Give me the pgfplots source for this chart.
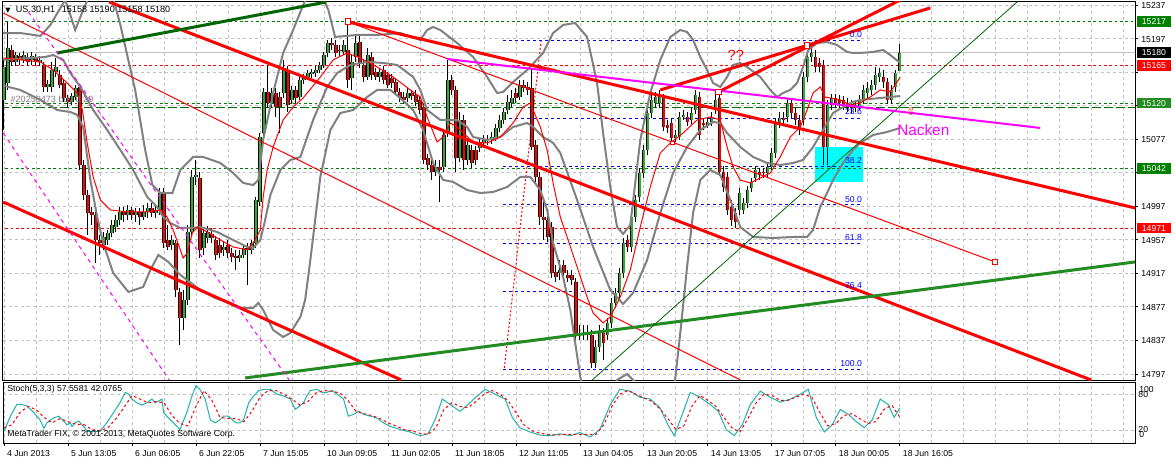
\documentclass[border=0pt]{standalone}
\usepackage{pgfplots}
\pgfplotsset{compat=1.18}
\usepackage{pgfplotstable}
\usepackage{fontspec}
\setmainfont{Liberation Sans}
\newfontfamily\symfont{DejaVu Sans}
\newcommand{\mtfont}{\fontsize{6.5}{7.5}\selectfont}

\definecolor{mtgreen}{RGB}{0,128,0}
\definecolor{mtdkgreen}{RGB}{0,100,0}
\definecolor{mtforest}{RGB}{34,139,34}
\definecolor{mtgray}{RGB}{128,128,128}
\definecolor{mtgrid}{RGB}{192,192,192}
\definecolor{mtbull}{RGB}{50,170,50}
\definecolor{mtsea}{RGB}{32,178,170}
\definecolor{mtmag}{RGB}{255,0,255}
\definecolor{mtblue}{RGB}{0,0,255}
\definecolor{mtcyan}{RGB}{0,255,255}

% US.30 H1 candles, bar index from 4 Jun 2013
\pgfplotstableread{
i o h l c
0 15124 15171 15088 15163
1 15144 15217 15136 15186
2 15183 15189 15164 15169
3 15169 15181 15164 15177
4 15176 15180 15166 15171
5 15171 15182 15168 15177
6 15175 15180 15164 15169
7 15171 15181 15166 15176
8 15174 15178 15164 15169
9 15169 15176 15164 15171
10 15165 15169 15133 15139
11 15139 15148 15133 15143
12 15139 15169 15133 15160
13 15157 15174 15151 15163
14 15154 15160 15138 15142
15 15144 15148 15121 15126
16 15126 15130 15115 15121
17 15121 15132 15118 15128
18 15127 15142 15124 15138
19 15139 15143 15040 15046
20 15046 15052 15004 15010
21 15010 15016 14963 14989
22 14990 14996 14975 14987
23 14987 14993 14929 14957
24 14957 14963 14939 14953
25 14951 14966 14945 14960
26 14957 14969 14951 14965
27 14965 14981 14960 14975
28 14972 14987 14966 14981
29 14981 14996 14975 14990
30 14990 14996 14978 14987
31 14987 14998 14981 14993
32 14993 14996 14981 14987
33 14987 14995 14978 14990
34 14990 14995 14975 14984
35 14984 14998 14981 14990
36 14990 15001 14983 14995
37 14995 15001 14984 14989
38 14989 14998 14983 14993
39 14993 15019 14987 15013
40 15013 15019 14947 14953
41 14957 14975 14945 14948
42 14951 14963 14945 14957
43 14953 14957 14889 14897
44 14895 14900 14832 14864
45 14864 14897 14849 14885
46 14885 14975 14879 14966
47 14966 15040 14960 15032
48 15032 15052 15022 15034
49 15031 15038 14935 14945
50 14947 14971 14939 14965
51 14959 14973 14953 14966
52 14964 14971 14953 14959
53 14957 14962 14933 14939
54 14951 14959 14935 14941
55 14945 14954 14938 14948
56 14951 14957 14935 14941
57 14941 14947 14931 14936
58 14938 14945 14921 14935
59 14935 14945 14931 14939
60 14939 14952 14935 14947
61 14947 14953 14903 14945
62 14945 14957 14940 14953
63 14953 15008 14947 15004
64 15002 15084 14997 15080
65 15084 15138 15080 15133
66 15133 15165 15114 15120
67 15120 15138 15114 15132
68 15132 15138 15103 15115
69 15127 15133 15084 15115
70 15132 15171 15126 15162
71 15160 15164 15109 15118
72 15124 15140 15119 15136
73 15136 15140 15120 15126
74 15127 15152 15124 15148
75 15148 15155 15143 15150
76 15151 15160 15148 15156
77 15155 15161 15150 15157
78 15156 15164 15151 15160
79 15160 15169 15156 15165
80 15165 15181 15162 15177
81 15180 15195 15175 15192
82 15192 15198 15183 15189
83 15189 15195 15175 15180
84 15183 15189 15176 15182
85 15181 15195 15177 15189
86 15183 15217 15138 15148
87 15150 15177 15136 15169
88 15175 15201 15169 15192
89 15193 15201 15162 15168
90 15165 15171 15145 15151
91 15151 15186 15148 15177
92 15175 15181 15148 15154
93 15157 15162 15148 15151
94 15151 15162 15145 15157
95 15160 15164 15143 15148
96 15154 15157 15138 15142
97 15150 15155 15138 15144
98 15145 15150 15130 15133
99 15133 15138 15121 15126
100 15127 15133 15119 15124
101 15126 15138 15121 15132
102 15132 15136 15124 15128
103 15130 15136 15117 15121
104 15124 15128 15107 15112
105 15114 15119 15047 15052
106 15055 15059 15040 15046
107 15046 15052 15028 15038
108 15038 15052 15033 15044
109 15044 15052 15002 15040
110 15044 15088 15038 15082
111 15084 15171 15080 15148
112 15148 15154 15130 15136
113 15136 15140 15038 15055
114 15055 15109 15050 15100
115 15100 15106 15040 15052
116 15052 15078 15046 15070
117 15064 15070 15043 15049
118 15064 15069 15046 15052
119 15066 15078 15062 15072
120 15072 15082 15066 15076
121 15076 15082 15070 15077
122 15076 15086 15071 15080
123 15080 15095 15075 15090
124 15090 15106 15086 15100
125 15100 15114 15095 15109
126 15112 15130 15107 15121
127 15120 15136 15115 15126
128 15132 15138 15120 15126
129 15127 15148 15124 15142
130 15142 15148 15133 15138
131 15139 15145 15130 15136
132 15138 15162 15064 15068
133 15070 15076 15026 15032
134 15032 15038 14975 14984
135 14984 15004 14957 14981
136 14981 14987 14954 14960
137 14972 14978 14911 14917
138 14919 14927 14907 14913
139 14917 14933 14909 14921
140 14927 14933 14911 14917
141 14915 14921 14907 14911
142 14915 14921 14903 14909
143 14907 14911 14838 14844
144 14846 14855 14838 14844
145 14845 14855 14838 14844
146 14844 14855 14838 14846
147 14844 14849 14804 14810
148 14810 14838 14804 14829
149 14829 14855 14823 14846
150 14846 14852 14814 14834
151 14844 14864 14838 14858
152 14858 14888 14852 14882
153 14882 14900 14876 14894
154 14894 14923 14888 14917
155 14917 14959 14911 14953
156 14957 14963 14942 14948
157 14948 14990 14942 14984
158 14984 15010 14978 15004
159 15008 15043 15002 15037
160 15037 15070 15031 15064
161 15064 15114 15058 15108
162 15108 15130 15102 15124
163 15120 15133 15114 15127
164 15120 15136 15114 15127
165 15126 15131 15087 15092
166 15094 15100 15084 15090
167 15096 15102 15074 15078
168 15078 15088 15074 15082
169 15080 15109 15076 15103
170 15103 15112 15100 15106
171 15103 15109 15093 15097
172 15100 15114 15095 15108
173 15112 15136 15107 15130
174 15127 15133 15076 15082
175 15096 15102 15088 15094
176 15094 15102 15090 15097
177 15097 15109 15093 15103
178 15112 15136 15107 15124
179 15126 15132 15033 15038
180 15038 15045 15014 15020
181 15032 15038 14987 14993
182 14996 15004 14973 14981
183 14989 14995 14971 14978
184 14993 15019 14987 15013
185 14993 15007 14988 15001
186 15001 15021 14995 15016
187 15019 15031 15014 15026
188 15031 15045 15026 15040
189 15038 15043 15028 15034
190 15038 15043 15031 15037
191 15037 15050 15032 15044
192 15044 15066 15040 15060
193 15060 15102 15055 15096
194 15096 15109 15090 15102
195 15102 15109 15094 15100
196 15103 15126 15097 15120
197 15120 15126 15102 15108
198 15108 15114 15094 15100
199 15100 15106 15082 15090
200 15100 15157 15094 15151
201 15151 15181 15145 15175
202 15175 15192 15169 15180
203 15175 15183 15157 15163
204 15168 15174 15157 15163
205 15165 15171 15046 15068
206 15068 15124 15046 15118
207 15118 15131 15112 15126
208 15126 15131 15114 15120
209 15124 15130 15114 15120
210 15124 15128 15112 15118
211 15120 15126 15109 15115
212 15118 15124 15108 15114
213 15114 15124 15109 15118
214 15115 15130 15112 15124
215 15124 15142 15119 15136
216 15132 15145 15126 15138
217 15136 15148 15130 15142
218 15142 15163 15136 15154
219 15151 15162 15145 15156
220 15151 15160 15138 15145
221 15145 15150 15119 15124
222 15124 15142 15119 15136
223 15139 15160 15133 15156
224 15158 15190 15158 15180
}\candles

\begin{document}
\begin{tikzpicture}
\path[use as bounding box] (0,0) rectangle (881.25pt,-345pt);

\begin{axis}[
  at={(2.25pt,-1.5pt)}, anchor=north west,
  scale only axis, width=849pt, height=283.5pt,
  xmin=-0.25, xmax=282.8, ymin=14789.8, ymax=15240.6,
  clip mode=individual,
  axis line style={black, line width=0.75pt},
  xtick={0,8,...,280}, xmajorticks=false,
  ytick={14797,14837,...,15237},
  yticklabels={14797,14837,14877,14917,14957,14997,,15077,,,15197,15237},
  ytick pos=right, yticklabel pos=right, tick align=outside,
  major tick length=2.25pt,
  tick style={black, line width=0.6pt},
  grid=major,
  grid style={mtgrid, line width=0.6pt, dash pattern=on 2.25pt off 2.25pt},
  yticklabel style={font=\mtfont, anchor=west, xshift=-1pt, yshift=-0.4pt},
  /pgf/number format/assume math mode=true,
  candle/.style={draw=none, mark=none, forget plot,
    error bars/y dir=plus, error bars/y explicit, error bars/error mark=none},
]
% cyan box
\addplot[fill=mtcyan, draw=none] coordinates {(202.8,15067.7) (214.8,15067.7) (214.8,15026) (202.8,15026)} -- cycle;

% horizontal levels
\addplot[mtgrid, line width=0.75pt] coordinates {(-1,15180) (283,15180)};
\addplot[mtgreen, line width=0.75pt, dash pattern=on 2pt off 2pt] coordinates {(-1,15217) (283,15217)};
\addplot[red, line width=0.75pt, dash pattern=on 2pt off 2pt] coordinates {(-1,15165) (283,15165)};
\addplot[mtgreen, line width=0.75pt, dash pattern=on 2pt off 2pt] coordinates {(-1,15120) (283,15120)};
\addplot[mtdkgreen, line width=0.75pt, dash pattern=on 7pt off 2pt] coordinates {(-1,15115) (283,15115)};
\addplot[mtgreen, line width=0.75pt, dash pattern=on 2pt off 2pt] coordinates {(-1,15042) (283,15042)};
\addplot[red, line width=0.75pt, dash pattern=on 2pt off 2pt] coordinates {(-1,14971) (283,14971)};

% fibonacci levels
\foreach \lv in {15194.5,15102.1,15044.9,14998.7,14952.5,14895.3,14802.9}{
  \addplot[mtblue, line width=0.75pt, dash pattern=on 2.25pt off 2.25pt] coordinates {(124.8,\lv) (214.6,\lv)};
}
\addplot[red, line width=0.75pt, dash pattern=on 1.5pt off 1.5pt] coordinates {(125.1,14804.2) (134.3,15194.1)};

% candles: wicks, then bodies
\addplot[candle, error bars/error bar style={draw=black, line width=0.75pt}]
  table[x=i, y=l, y error expr=\thisrow{h}-\thisrow{l}] {\candles};
\addplot[candle, restrict expr to domain={\thisrow{c}-\thisrow{o}}{0.5:1000},
  error bars/error bar style={draw=black, line width=2.4pt}]
  table[x=i, y=o, y error expr=\thisrow{c}-\thisrow{o}] {\candles};
\addplot[candle, restrict expr to domain={\thisrow{c}-\thisrow{o}}{0.5:1000},
  error bars/error bar style={draw=mtbull, line width=1.4pt}]
  table[x=i, y=o, y error expr=\thisrow{c}-\thisrow{o}] {\candles};
\addplot[candle, restrict expr to domain={\thisrow{o}-\thisrow{c}}{0.5:1000},
  error bars/error bar style={draw=black, line width=2.4pt}]
  table[x=i, y=c, y error expr=\thisrow{o}-\thisrow{c}] {\candles};
\addplot[candle, restrict expr to domain={\thisrow{o}-\thisrow{c}}{0.5:1000},
  error bars/error bar style={draw=red, line width=1.4pt}]
  table[x=i, y=c, y error expr=\thisrow{o}-\thisrow{c}] {\candles};

% bands (gray): upper, middle, lower
\addplot[mtgray, line width=1.5pt] coordinates {
(-0.9,15203.6) (4.1,15203.6) (9.1,15200.1) (11.6,15213.2) (14.1,15233.5) (15.3,15243) (16.6,15225.1) (17.8,15207.2) (19.6,15228.7) (21.1,15245.4) (24.1,15278.8) (27.3,15245.4) (29.1,15213.2) (30.8,15177.4) (32.8,15135.7) (35.3,15064.1) (37.1,15022.4) (39.1,15012.8) (42.1,15012.8) (44.1,15040.3) (47.3,15055.8) (49.8,15055.8) (54.1,15048.6) (57.3,15036.7) (59.8,15024.8) (62.3,15022.4) (63.6,15028.4) (64.8,15076.1) (67.3,15132.1) (69.8,15179.8) (72.3,15207.2) (74.8,15237.0) (77.8,15266.9) (81.1,15231.1) (82.8,15198.9) (88.3,15201.3) (93.3,15201.3) (99.1,15203.6) (104.1,15195.3) (105.8,15207.2) (107.3,15210.8) (109.1,15207.2) (113.3,15191.7) (117.3,15175.0) (120.8,15151.2) (123.3,15132.1) (124.8,15133.3) (127.3,15145.2) (130.8,15159.5) (134.8,15179.8) (137.3,15203.6) (139.8,15213.2) (142.8,15215.6) (145.8,15198.9) (148.3,15144.0) (149.8,15084.4) (151.6,15020.0) (153.3,14972.3) (154.8,14964.0) (156.6,14974.7) (159.1,15076.1) (161.6,15132.1) (164.1,15171.5) (166.6,15198.9) (169.1,15207.2) (170.8,15204.8) (172.3,15195.3) (174.1,15175.0) (175.8,15159.5) (177.3,15144.0) (179.1,15139.3) (180.8,15151.2) (182.3,15165.5) (184.1,15167.9) (185.8,15163.1) (189.1,15151.2) (191.6,15135.7) (193.3,15127.3) (194.8,15132.1) (196.6,15135.7) (198.3,15144.0) (199.8,15163.1) (201.1,15183.4) (203.3,15191.7) (205.8,15192.9) (208.3,15189.3) (210.8,15181.0) (212.3,15179.8) (214.1,15179.8) (217.3,15181.0) (219.8,15183.4) (221.6,15177.4) (224.1,15167.9)};
\addplot[mtgray, line width=1.5pt] coordinates {
(-0.9,15171.5) (6.6,15173.8) (10.3,15175.0) (12.3,15177.4) (14.8,15171.5) (16.6,15155.9) (19.1,15139.3) (22.3,15111.8) (25.8,15088.0) (29.1,15064.1) (32.3,15040.3) (35.8,15008.1) (38.3,14996.2) (39.8,14984.2) (41.6,14977.1) (44.1,14971.1) (46.6,14971.1) (49.1,14972.3) (53.3,14966.3) (57.3,14956.8) (60.8,14948.5) (62.3,14947.3) (64.1,14956.8) (65.3,14980.6) (66.6,15010.5) (69.1,15040.3) (71.6,15052.2) (74.1,15055.8) (77.3,15099.9) (80.8,15139.3) (83.3,15155.9) (86.6,15165.5) (90.8,15169.1) (94.8,15167.9) (98.3,15165.5) (102.3,15151.2) (104.1,15135.7) (105.8,15111.8) (109.1,15099.9) (113.3,15099.9) (115.8,15091.6) (117.3,15079.6) (120.8,15076.1) (124.1,15079.6) (127.3,15091.6) (130.8,15096.3) (132.3,15091.6) (134.8,15079.6) (137.3,15072.5) (139.1,15060.6) (143.3,15004.5) (147.3,14948.5) (151.6,14897.2) (154.8,14880.5) (157.3,14893.6) (160.8,14932.9) (164.1,14989.0) (167.3,15036.7) (170.8,15067.7) (174.1,15088.0) (177.3,15097.5) (179.1,15096.3) (180.8,15084.4) (184.1,15067.7) (187.3,15055.8) (190.8,15048.6) (194.1,15046.2) (197.3,15048.6) (199.8,15052.2) (202.3,15067.7) (204.8,15088.0) (207.3,15108.2) (209.8,15115.4) (212.3,15121.4) (214.1,15123.8) (219.1,15126.1) (224.1,15128.5)};
\addplot[mtgray, line width=1.5pt] coordinates {
(-0.9,15141.6) (4.1,15135.7) (9.1,15123.8) (13.3,15111.8) (16.6,15109.4) (18.3,15105.9) (19.8,15091.6) (21.6,15028.4) (23.3,14984.2) (24.8,14953.2) (27.3,14917.4) (31.1,14894.8) (34.8,14900.8) (36.6,14921.0) (38.6,14938.9) (41.1,14930.6) (44.1,14915.1) (49.1,14897.2) (52.8,14887.6) (56.6,14881.7) (59.1,14875.7) (62.3,14875.7) (63.6,14881.7) (64.8,14873.3) (67.3,14849.5) (69.8,14841.1) (71.6,14845.9) (74.1,14865.0) (75.3,14885.3) (76.6,14932.9) (79.1,15031.9) (81.6,15088.0) (84.1,15108.2) (87.3,15111.8) (90.8,15127.3) (93.3,15135.7) (96.6,15135.7) (99.1,15126.1) (102.3,15111.8) (104.8,15088.0) (107.3,15048.6) (109.8,15028.4) (112.3,15026.0) (115.8,15016.4) (119.1,15012.8) (122.3,15014.0) (125.8,15020.0) (129.1,15031.9) (131.6,15031.9) (134.1,15016.4) (135.8,14992.6) (137.3,14953.2) (139.8,14912.7) (141.6,14873.3) (144.1,14793.4) (146.6,14742.2) (150.3,14766.0) (153.3,14789.9) (155.8,14797.0) (157.8,14787.5) (161.6,14730.2) (166.1,14742.2) (167.8,14789.9) (169.1,14845.9) (170.8,14924.6) (172.3,14989.0) (174.1,15028.4) (176.6,15040.3) (179.1,15034.3) (181.6,15004.5) (184.1,14972.3) (187.3,14960.4) (192.3,14959.2) (197.3,14960.4) (200.8,14960.4) (202.3,14968.7) (204.1,14996.2) (205.8,15012.8) (207.3,15028.4) (209.8,15048.6) (212.3,15064.1) (214.1,15072.5) (217.3,15082.0) (220.8,15085.6) (224.1,15090.4)};

% moving average (red thin)
\addplot[red, line width=0.75pt] coordinates {
(-0.2,15173.8) (9.1,15169.1) (12.3,15159.5) (15.8,15144.0) (18.3,15132.1) (19.6,15111.8) (20.8,15072.5) (22.3,15031.9) (24.1,15004.5) (26.6,14992.6) (30.8,14990.2) (35.8,14990.2) (39.1,14992.6) (40.8,14984.2) (42.3,14968.7) (44.1,14944.9) (44.8,14935.3) (45.8,14941.3) (47.1,14965.1) (48.3,14972.3) (50.8,14966.3) (54.1,14956.8) (57.3,14948.5) (60.8,14944.9) (62.3,14953.2) (64.1,14968.7) (64.8,15008.1) (65.8,15040.3) (67.3,15067.7) (69.8,15099.9) (72.3,15115.4) (74.8,15126.1) (79.1,15151.2) (82.3,15171.5) (85.8,15179.8) (89.1,15173.8) (93.3,15163.1) (97.3,15151.2) (101.6,15135.7) (104.1,15127.3) (105.8,15103.5) (108.3,15073.7) (109.8,15079.6) (111.6,15096.3) (113.3,15091.6) (114.8,15084.4) (117.3,15073.7) (120.8,15072.5) (124.1,15079.6) (127.3,15096.3) (129.8,15115.4) (131.6,15120.2) (132.3,15111.8) (134.1,15091.6) (135.8,15064.1) (137.3,15024.8) (139.1,14984.2) (140.8,14960.4) (143.3,14924.6) (145.8,14888.8) (147.3,14869.7) (149.8,14857.8) (151.6,14865.0) (154.1,14888.8) (156.6,14921.0) (159.1,14972.3) (161.6,15020.0) (164.1,15060.6) (166.6,15072.5) (169.8,15084.4) (173.3,15099.9) (176.6,15103.5) (179.1,15099.9) (180.8,15067.7) (182.3,15043.9) (184.1,15028.3) (186.6,15024.8) (189.1,15030.7) (191.6,15036.7) (194.1,15055.8) (196.6,15079.6) (199.1,15091.6) (200.8,15111.8) (202.3,15132.1) (204.1,15139.3) (205.3,15127.3) (206.6,15126.1) (209.1,15123.8) (211.6,15117.8) (214.1,15120.2) (216.6,15127.3) (219.1,15135.7) (221.6,15133.3) (223.3,15145.2) (224.1,15151.2)};

% trend lines
\addplot[red, line width=2.25pt] coordinates {(86,15217) (282.8,14995)};
\addplot[red, line width=2.25pt] coordinates {(-0.2,15002.1) (99.3,14789.9)};
\addplot[red, line width=2.25pt] coordinates {(26.3,15240.6) (271.8,14789.9)};
\addplot[red, line width=2.25pt] coordinates {(164.1,15135.7) (231.6,15233.5)};
\addplot[red, line width=2.25pt] coordinates {(178.6,15133.3) (224.1,15243)};
\addplot[red, line width=0.75pt] coordinates {(86,15217) (247.8,14930.6)};
\addplot[red, line width=0.75pt] coordinates {(-0.2,15227.5) (184.1,14789.9)};
\addplot[mtdkgreen, line width=2.25pt] coordinates {(13.3,15179.8) (80.6,15240.6)};
\addplot[mtforest, line width=2.25pt] coordinates {(60.3,14792.2) (282.8,14930.6)};
\addplot[mtdkgreen, line width=0.6pt] coordinates {(147.1,14789.9) (253.3,15240.6)};
\addplot[mtmag, line width=1.5pt] coordinates {(110.8,15172.6) (259.1,15090.4)};
\addplot[mtmag, line width=0.75pt, dash pattern=on 3pt off 3pt] coordinates {(6.1,15228.7) (71.3,14789.9)};
\addplot[mtmag, line width=0.75pt, dash pattern=on 3pt off 3pt] coordinates {(-0.2,15084.4) (41.3,14789.9)};

% anchor squares
\addplot[only marks, mark=square*, mark size=2.2pt, mark options={draw=red, fill=white, line width=0.75pt}]
  coordinates {(86,15217) (178.6,15133.3) (200.8,15189) (247.8,14930.6)};
\addplot[only marks, mark=square*, mark size=1.4pt, mark options={draw=red, fill=white, line width=0.6pt}]
  coordinates {(167.1,15072.5)};

% fib labels
\foreach \lab/\yy in {0.0/15201.3,23.6/15109.4,38.2/15051,50.0/15004.5,61.8/14959.2,76.4/14902,100.0/14808.9}{
  \edef\tmp{\noexpand\node[anchor=east, text=mtblue, font=\noexpand\mtfont, inner sep=0pt] at (axis cs:214.6,\yy) {\lab};}\tmp
}

% texts
\node[anchor=west, font=\fontsize{6.8}{8}\selectfont, inner sep=0pt] at (axis cs:0.3,15231.5)
  {{\symfont\fontsize{5}{6}\selectfont▼}\hspace{4pt}US.30,H1\hspace{5pt}15158 15190 15158 15180};
\node[anchor=west, font=\fontsize{6.8}{8}\selectfont, text=mtgray, inner sep=0pt] at (axis cs:1.6,15123.8) {\#20250473 buy 0.20};
\node[text=red, font=\fontsize{11}{12}\selectfont, inner sep=0pt] at (axis cs:183,15177.4) {??};
\node[anchor=west, text=mtmag, font=\fontsize{11.5}{12}\selectfont, inner sep=0pt] at (axis cs:223.3,15088) {Nacken};
\node[text=red!70!orange, font=\symfont\fontsize{8}{9}\selectfont, inner sep=0pt] at (axis cs:226.8,15110.6) {⇧};

% price labels
\foreach \pv/\cl in {15217/mtgreen,15180/black,15165/red,15120/mtforest,15042/mtgreen,14971/red}{
  \edef\tmp{\noexpand\node[anchor=west, fill=\cl, text=white, font=\noexpand\mtfont, inner sep=0pt,
    minimum width=25pt, minimum height=8pt, xshift=1.5pt] at (axis cs:282.8,\pv) {\pv};}\tmp
}
\end{axis}

\begin{axis}[
  at={(2.25pt,-286.5pt)}, anchor=north west,
  scale only axis, width=849pt, height=45.75pt,
  xmin=-0.25, xmax=282.8, ymin=0, ymax=100,
  clip mode=individual,
  axis line style={black, line width=0.75pt},
  xtick={0,16,...,224},
  xticklabels={4 Jun 2013,5 Jun 13:05,6 Jun 06:05,6 Jun 22:05,7 Jun 15:05,10 Jun 09:05,11 Jun 02:05,11 Jun 18:05,12 Jun 11:05,13 Jun 04:05,13 Jun 20:05,14 Jun 13:05,17 Jun 07:05,18 Jun 00:05,18 Jun 16:05},
  minor xtick={8,24,40,56,72,88,104,120,136,152,168,184,200,216,232,240,248,256,264,272,280},
  xtick pos=left, tick align=outside,
  major tick length=2.25pt, minor tick length=0pt,
  tick style={black, line width=0.6pt},
  xticklabel style={font=\mtfont, anchor=north west, xshift=-1.2pt, yshift=0.5pt},
  ytick={20,80}, ymajorticks=false,
  xmajorgrids, xminorgrids, ymajorgrids,
  grid style={mtgrid, line width=0.6pt, dash pattern=on 2.25pt off 2.25pt},
]
\addplot[mtsea, line width=0.75pt] coordinates {
(0,19) (1.6,44) (3.2,63) (4.5,63) (5.7,61) (7.4,50) (9,38) (10,24) (10.7,33) (12.4,41) (13.7,44) (14.9,36) (15.7,30) (16.6,33) (17,27) (17.8,33) (18.7,36) (19.5,30) (20.3,24) (20.7,19) (24,19) (25.7,33) (27.4,50) (29,66) (30.3,83) (31.2,80) (32,72) (33.2,66) (34.5,62) (35.7,66) (37,72) (37.8,66) (38.7,69) (39.5,72) (39.9,50) (40.7,44) (41.6,38) (42.4,33) (44,22) (45.7,50) (47,77) (48,94) (49,88) (50.3,72) (51.6,38) (52.8,33) (54,38) (54.9,44) (56.2,44) (57.4,36) (58.2,33) (59,33) (59.9,38) (61.2,66) (62.4,77) (63.7,86) (65,88) (66.6,88) (68.3,80) (69.9,77) (71.6,72) (72.8,55) (74,61) (74.9,66) (75.7,77) (76.6,86) (78.3,88) (79.5,83) (80.7,83) (82,86) (83.3,80) (84.9,72) (86.1,44) (87.4,47) (88.7,52) (89.9,47) (91.6,44) (93.2,41) (94.9,33) (96.6,27) (98.2,24) (99,22) (101.6,18) (104,12) (106,15) (107.8,38) (109.6,72) (111.6,63) (114,52) (116,63) (118,75) (120.3,88) (122.8,80) (125.3,72) (127.1,42) (129,25) (131.6,18) (134,13) (136.6,12) (139,15) (141.6,12) (144,17) (146.6,10) (149,22) (151.6,63) (154,88) (156.6,85) (159,75) (161.6,72) (164,58) (166,30) (167.6,12) (169.6,47) (171.6,83) (174,75) (176.6,63) (178.6,52) (180.6,22) (182.6,12) (184.6,30) (186.6,63) (189.1,85) (191.6,75) (194.1,67) (196.6,72) (199.1,80) (201.1,88) (203.1,42) (205.1,18) (207.1,30) (209.1,55) (211.1,47) (213.1,35) (215.1,25) (217.1,38) (219.1,72) (221.1,63) (222.6,42) (224,57.6)};
\addplot[red, line width=0.75pt, dash pattern=on 2pt off 2pt] coordinates {
(0,25) (2,30) (4,50) (6,60) (8,55) (10,42) (12,33) (14,40) (16,35) (18,31) (20,30) (22,22) (24,20) (26,25) (28,40) (30,58) (32,78) (34,72) (36,66) (38,68) (40,66) (42,45) (44,32) (46,28) (48,60) (50,86) (52,70) (54,42) (56,40) (58,40) (60,35) (62,52) (64,75) (66,86) (68,86) (70,80) (72,72) (74,62) (76,68) (78,82) (80,86) (82,85) (84,82) (86,70) (88,52) (90,48) (92,45) (94,40) (96,33) (98,28) (100,22) (102,20) (104,16) (106,14) (108,25) (110,55) (112,66) (114,60) (116,58) (118,68) (120,80) (122,86) (124,80) (126,70) (128,50) (130,30) (132,20) (134,16) (136,14) (138,13) (140,14) (142,14) (144,14) (146,14) (148,14) (150,30) (152,60) (154,80) (156,86) (158,80) (160,74) (162,68) (164,56) (166,40) (168,22) (170,28) (172,60) (174,78) (176,70) (178,60) (180,42) (182,25) (184,18) (186,40) (188,65) (190,80) (192,78) (194,70) (196,70) (198,75) (200,80) (202,75) (204,50) (206,28) (208,32) (210,45) (212,48) (214,40) (216,32) (218,35) (220,55) (222,62) (224,42)};

\node[anchor=west, font=\mtfont, inner sep=0pt] at (axis cs:0.8,87.7) {Stoch(5,3,3) 57.5581 42.0765};
\node[anchor=west, font=\mtfont, inner sep=0pt] at (axis cs:0.8,14.8) {MetaTrader FIX, © 2001-2013, MetaQuotes Software Corp.};
\node[anchor=west, font=\mtfont, inner sep=0pt] at (axis cs:283.8,87.7) {100};
\node[anchor=west, font=\mtfont, inner sep=0pt] at (axis cs:283.6,79.5) {80};
\node[anchor=west, font=\mtfont, inner sep=0pt] at (axis cs:283.6,22.1) {20};
\node[anchor=west, font=\mtfont, inner sep=0pt] at (axis cs:283.8,13.1) {0};
\end{axis}
\end{tikzpicture}
\end{document}
